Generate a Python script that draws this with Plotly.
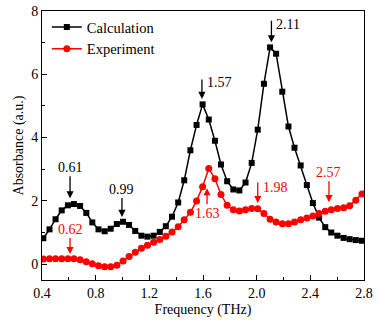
import plotly.graph_objects as go

freq = [0.410, 0.456, 0.501, 0.547, 0.593, 0.638, 0.684, 0.730, 0.775, 0.821,
        0.867, 0.912, 0.958, 1.004, 1.049, 1.095, 1.141, 1.186, 1.232, 1.278,
        1.323, 1.369, 1.415, 1.460, 1.506, 1.552, 1.597, 1.643, 1.689, 1.734,
        1.780, 1.826, 1.871, 1.917, 1.963, 2.008, 2.054, 2.100, 2.145, 2.191,
        2.237, 2.282, 2.328, 2.374, 2.419, 2.465, 2.511, 2.556, 2.602, 2.648,
        2.693, 2.739, 2.785]

calculation = [0.82, 1.10, 1.42, 1.70, 1.86, 1.90, 1.84, 1.62, 1.32, 1.10,
               1.04, 1.12, 1.27, 1.34, 1.24, 1.05, 0.90, 0.87, 0.90, 1.02,
               1.20, 1.50, 1.95, 2.65, 3.60, 4.40, 5.05, 4.57, 3.90, 3.15,
               2.62, 2.36, 2.33, 2.58, 3.20, 4.25, 5.70, 6.85, 6.65, 5.45,
               4.35, 3.68, 3.12, 2.50, 1.93, 1.47, 1.17, 1.00, 0.90, 0.83,
               0.79, 0.76, 0.74]

experiment = [0.16, 0.17, 0.17, 0.17, 0.17, 0.17, 0.14, 0.08, 0.01, -0.05,
              -0.08, -0.08, -0.03, 0.10, 0.24, 0.38, 0.50, 0.60, 0.69, 0.78,
              0.88, 1.02, 1.18, 1.40, 1.64, 2.00, 2.45, 3.02, 2.70, 2.20,
              1.86, 1.72, 1.68, 1.72, 1.76, 1.75, 1.60, 1.42, 1.33, 1.28,
              1.28, 1.33, 1.40, 1.46, 1.52, 1.60, 1.67, 1.72, 1.76, 1.78,
              1.85, 2.02, 2.22]

x_ticks = [0.4, 0.8, 1.2, 1.6, 2.0, 2.4, 2.8]
y_ticks = [0, 2, 4, 6, 8]

FONT = "Liberation Serif"
RED = "#ff0000"

fig = go.Figure()
fig.add_trace(go.Scatter(
    x=freq, y=calculation, name="Calculation", mode="lines+markers",
    line=dict(color="black", width=1.5),
    marker=dict(symbol="square", size=6, color="black")))
fig.add_trace(go.Scatter(
    x=freq, y=experiment, name="Experiment", mode="lines+markers",
    line=dict(color=RED, width=1.5),
    marker=dict(symbol="circle", size=7, color=RED)))

anns = []
def arrow_text(text, x, y, color, ay):
    anns.append(dict(x=x, y=y, xref="x", yref="y", text=text, showarrow=True,
                     ax=0, ay=ay, arrowhead=2, arrowsize=1.1, arrowwidth=1.3,
                     arrowcolor=color, font=dict(family=FONT, size=14, color=color)))

def arrow_side(text, x, y, color, length, dy_text):
    anns.append(dict(x=x, y=y, xref="x", yref="y", text="", showarrow=True,
                     ax=0, ay=-length, arrowhead=2, arrowsize=1.1, arrowwidth=1.3,
                     arrowcolor=color))
    anns.append(dict(x=x, y=y, xref="x", yref="y", text=text, showarrow=False,
                     xanchor="left", yanchor="middle", xshift=3, yshift=dy_text,
                     font=dict(family=FONT, size=14, color=color)))

arrow_text("0.61", 0.609, 2.08, "black", -31)
arrow_text("0.99", 0.996, 1.49, "black", -28)
arrow_side("1.57", 1.592, 5.22, "black", 21, 16)
arrow_side("2.11", 2.11, 7.01, "black", 23, 18)
arrow_text("0.62", 0.609, 0.32, RED, -25)
arrow_text("1.63", 1.63, 2.40, RED, 25)
arrow_side("1.98", 2.008, 1.93, RED, 22, 16)
arrow_text("2.57", 2.539, 1.96, RED, -30)

fig.update_layout(
    width=379, height=322, autosize=False,
    margin=dict(l=42, r=15, t=11, b=42, autoexpand=False),
    paper_bgcolor="white", plot_bgcolor="white",
    font=dict(family=FONT, size=14, color="black"),
    showlegend=True,
    legend=dict(x=0.015, y=1.0, xanchor="left", yanchor="top",
                bgcolor="rgba(0,0,0,0)", font=dict(family=FONT, size=14.5),
                tracegroupgap=0, itemwidth=30),
    annotations=anns,
)
fig.update_xaxes(
    range=[0.4, 2.8], tickvals=x_ticks, ticktext=[f"{v:.1f}" for v in x_ticks],
    ticks="inside", ticklen=5, tickwidth=1, tickcolor="black",
    minor=dict(ticks="inside", ticklen=3, dtick=0.2, tick0=0.4, tickcolor="black"),
    showline=True, linecolor="black", linewidth=1, mirror=True,
    showgrid=False, zeroline=False, automargin=False,
    title=dict(text="Frequency (THz)", font=dict(family=FONT, size=14), standoff=4),
    tickfont=dict(family=FONT, size=14))
fig.update_yaxes(
    range=[-0.5, 8], tickvals=y_ticks,
    ticks="inside", ticklen=5, tickwidth=1, tickcolor="black",
    minor=dict(ticks="inside", ticklen=3, dtick=1, tick0=0, tickcolor="black"),
    showline=True, linecolor="black", linewidth=1, mirror=True,
    showgrid=False, zeroline=False, automargin=False,
    title=dict(text="Absorbance (a.u.)", font=dict(family=FONT, size=14), standoff=4),
    tickfont=dict(family=FONT, size=14))

fig.write_html("out.html", config={"displayModeBar": False},
               post_script="document.body.style.margin='0';document.body.style.overflow='hidden';")
